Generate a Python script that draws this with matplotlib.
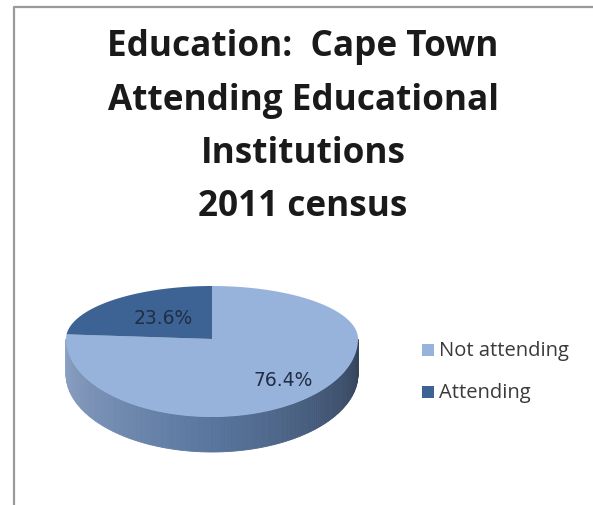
import numpy as np
import matplotlib
matplotlib.use("Agg")
import matplotlib.pyplot as plt
from matplotlib.patches import Polygon, Rectangle

# data
labels = ["Not attending", "Attending"]
shares = [76.4, 23.6]
pct_text = ["76.4%", "23.6%"]
title_lines = ["Education:  Cape Town", "Attending Educational", "Institutions", "2011 census"]

top_colors = ["#97b3db", "#3d6395"]

W, H = 593, 506
fig = plt.figure(figsize=(W / 100, H / 100), dpi=100)
ax = fig.add_axes([0, 0, 1, 1])
ax.set_xlim(0, W)
ax.set_ylim(H, 0)
ax.axis("off")

# frame (chart area border)
ax.plot([13.5, 13.5, W], [H, 7.5, 7.5], color="#9a9a9a", lw=1.6)

# title
for i, line in enumerate(title_lines):
    ax.text(303, 47 + i * 53.5, line, ha="center", va="center",
            fontsize=25.3, fontweight="bold", family="Open Sans", color="#1a1a1a")

# 3D pie geometry (back half flatter than front half, like a perspective view)
cx, cy = 212, 340
a = 146
b_back, b_front = 53, 78
depth = 35


def pt(t):
    s = np.sin(t)
    bb = np.where(s >= 0, b_back, b_front)
    return cx + a * np.cos(t), cy - bb * s


# side of the pie (front half), shaded strips
n = 160
ts = np.linspace(np.pi, 2 * np.pi, n + 1)
c_left = np.array([0.56, 0.64, 0.77])
c_mid = np.array([0.35, 0.46, 0.62])
c_right = np.array([0.20, 0.26, 0.35])
for k in range(n):
    t0, t1 = ts[k], ts[k + 1]
    x0, y0 = pt(t0)
    x1, y1 = pt(t1)
    f = k / (n - 1)
    if f < 0.5:
        col = c_left + (c_mid - c_left) * (f / 0.5)
    else:
        col = c_mid + (c_right - c_mid) * ((f - 0.5) / 0.5)
    ax.add_patch(Polygon([(x0, y0), (x1, y1), (x1, y1 + depth), (x0, y0 + depth)],
                         closed=True, facecolor=col, edgecolor=col, lw=0.6))

# top faces: first slice clockwise from 12 o'clock
start = 90.0
for share, col in zip(shares, top_colors):
    sweep = share / sum(shares) * 360
    th = np.radians(np.linspace(start, start - sweep, 200))
    xs, ys = pt(th)
    verts = [(cx, cy)] + list(zip(xs, ys))
    ax.add_patch(Polygon(verts, closed=True, facecolor=col, edgecolor="none"))
    start -= sweep

# percentage labels
ax.text(283, 380, pct_text[0], ha="center", va="center", fontsize=13.5,
        family="DejaVu Sans", color="#1f2e44")
ax.text(163, 318, pct_text[1], ha="center", va="center", fontsize=13.5,
        family="DejaVu Sans", color="#1f2e44")

# legend
for i, (lab, col) in enumerate(zip(labels, top_colors)):
    y = 351 + i * 42
    ax.add_patch(Rectangle((422, y - 6), 12, 12, facecolor=col, edgecolor="none"))
    ax.text(439, y, lab, ha="left", va="center", fontsize=14.5,
            family="Open Sans", color="#3a3a3a")

fig.savefig("out.png", dpi=100)
